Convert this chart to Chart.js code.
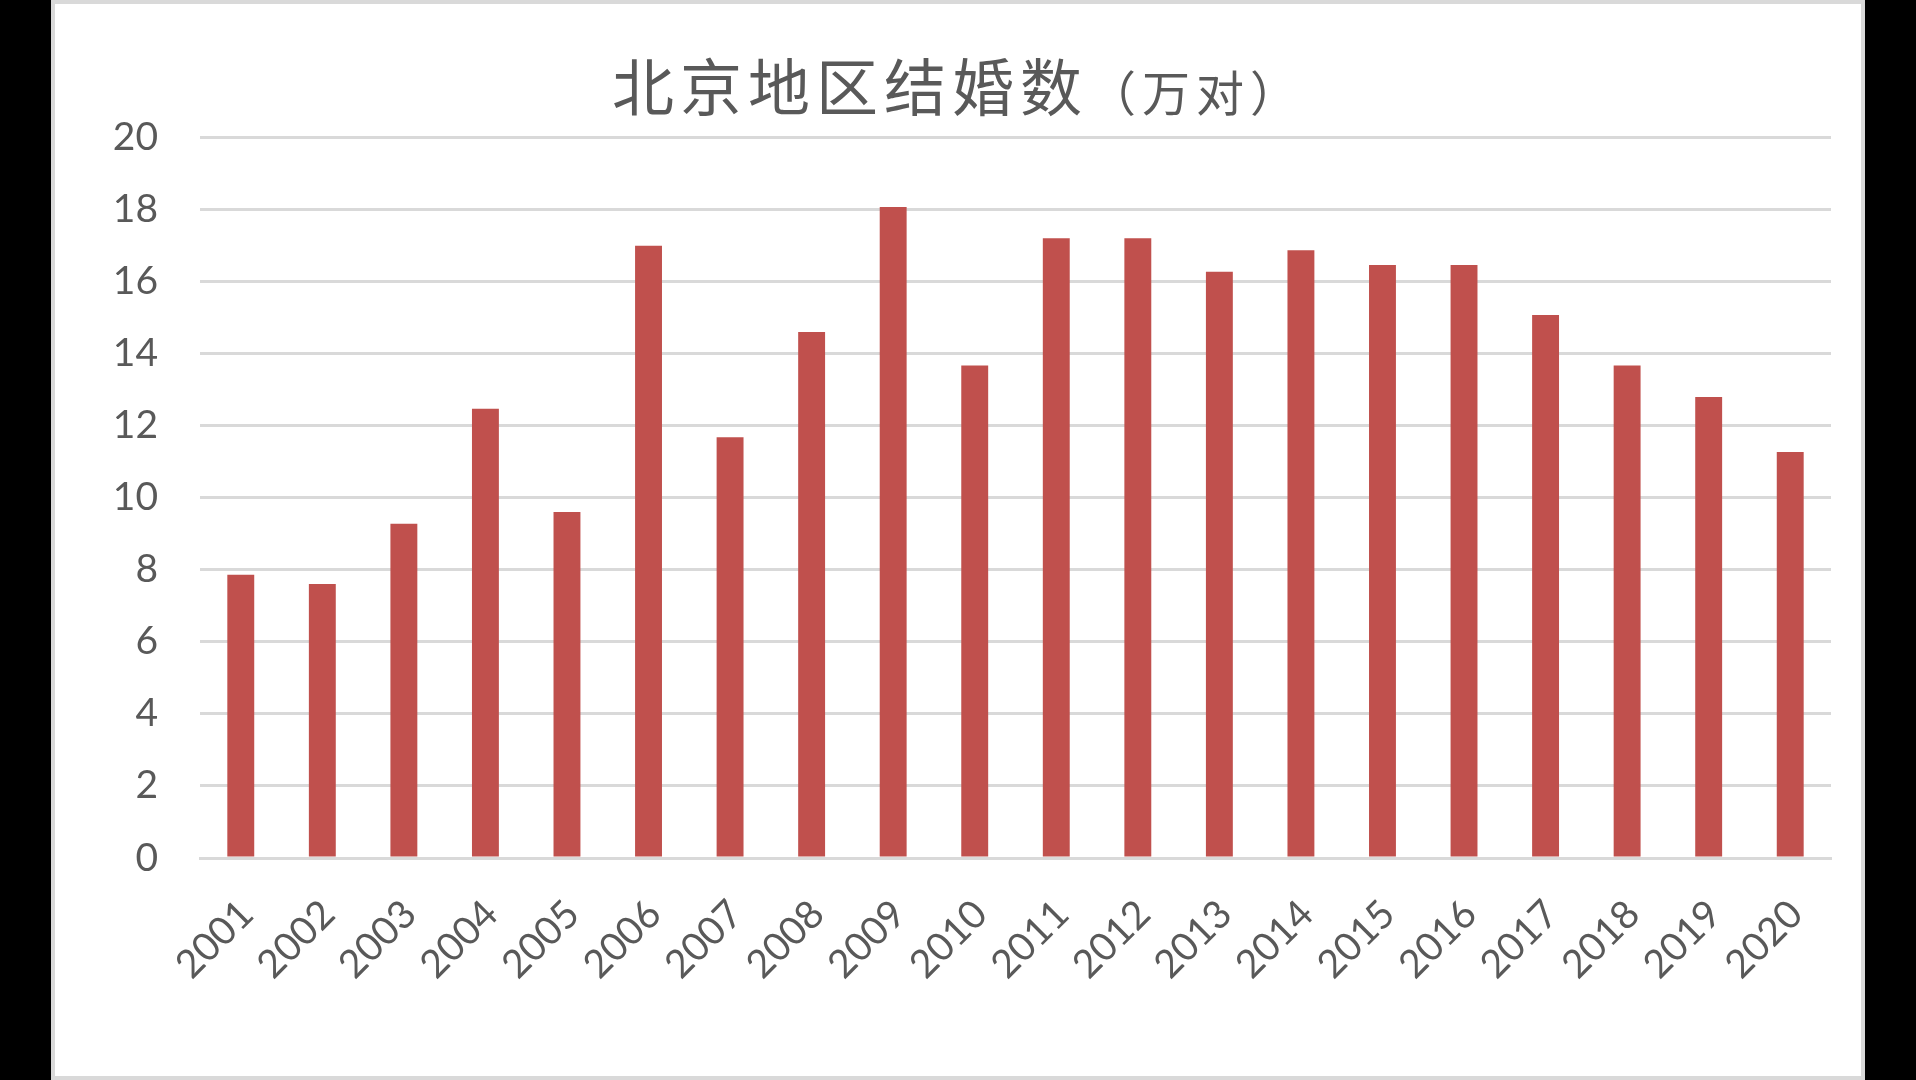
<!DOCTYPE html>
<html>
<head>
<meta charset="utf-8">
<title>北京地区结婚数</title>
<script src="https://cdn.jsdelivr.net/npm/chart.js@4.4.0/dist/chart.umd.min.js"></script>
<style>
    html, body {
        margin: 0;
        padding: 0;
        width: 1916px;
        height: 1080px;
        background: #000;
        overflow: hidden;
    }
    #frame {
        position: absolute;
        left: 51px;
        top: 0;
        width: 1814px;
        height: 1080px;
        box-sizing: border-box;
        border: 4px solid #d9d9d9;
        background: #fff;
    }
    #frame canvas {
        display: block;
    }
</style>
</head>
<body>
<div id="frame">
    <canvas id="marriageChart" width="1806" height="1072"></canvas>
</div>
<script>
// Data
const years = ['2001', '2002', '2003', '2004', '2005', '2006', '2007', '2008', '2009', '2010',
               '2011', '2012', '2013', '2014', '2015', '2016', '2017', '2018', '2019', '2020'];
const marriages = [7.86, 7.60, 9.27, 12.46, 9.60, 16.98, 11.67, 14.59, 18.06, 13.66,
                   17.19, 17.19, 16.26, 16.86, 16.45, 16.45, 15.06, 13.66, 12.79, 11.26];
const yMin = 0;
const yMax = 20;
const yStep = 2;
const titleMain = '北京地区结婚数';
const titleUnit = '（万对）';

const textColor = '#595959';
const gridColor = '#d9d9d9';
const barColor = '#c0504d';
const tickFont = { family: 'Lato', size: 39 };

// Title drawn in two sizes, the unit part smaller like in the original
const splitTitle = {
    id: 'splitTitle',
    afterDraw(chart) {
        const ctx = chart.ctx;
        ctx.save();
        ctx.fillStyle = textColor;
        ctx.textAlign = 'left';
        ctx.textBaseline = 'alphabetic';

        const mainFont = '62px "Noto Sans CJK SC"';
        const unitFont = '48px "Noto Sans CJK SC"';

        ctx.font = mainFont;
        ctx.letterSpacing = '6px';
        const w1 = ctx.measureText(titleMain).width;
        ctx.font = unitFont;
        ctx.letterSpacing = '6px';
        const w2 = ctx.measureText(titleUnit).width;

        const x = chart.width / 2 - (w1 + w2) / 2;
        const baseline = 107;
        ctx.font = mainFont;
        ctx.letterSpacing = '6px';
        ctx.fillText(titleMain, x, baseline);
        ctx.font = unitFont;
        ctx.letterSpacing = '6px';
        ctx.fillText(titleUnit, x + w1, baseline);
        ctx.restore();
    }
};

const ctx = document.getElementById('marriageChart').getContext('2d');

const marriageChart = new Chart(ctx, {
    type: 'bar',
    data: {
        labels: years,
        datasets: [{
            label: '结婚数',
            data: marriages,
            backgroundColor: barColor,
            borderWidth: 0,
            categoryPercentage: 1.0,
            barPercentage: 0.33
        }]
    },
    options: {
        responsive: false,
        animation: false,
        layout: {
            padding: { top: 133, right: 30, left: 0, bottom: 0 }
        },
        plugins: {
            legend: { display: false },
            title: { display: false },
            tooltip: { enabled: false }
        },
        scales: {
            x: {
                grid: { display: false, drawTicks: false },
                border: { display: true, color: gridColor, width: 3 },
                ticks: {
                    color: textColor,
                    font: tickFont,
                    maxRotation: 45,
                    minRotation: 45,
                    padding: 33,
                    labelOffset: 6,
                    autoSkip: false
                },
                afterFit(scale) {
                    scale.height = 218;
                }
            },
            y: {
                min: yMin,
                max: yMax,
                grid: { color: gridColor, lineWidth: 3, drawTicks: false },
                border: { display: false },
                ticks: {
                    stepSize: yStep,
                    color: textColor,
                    font: tickFont,
                    padding: 42
                },
                afterFit(scale) {
                    scale.width = 145;
                }
            }
        }
    },
    plugins: [splitTitle]
});
</script>
</body>
</html>
